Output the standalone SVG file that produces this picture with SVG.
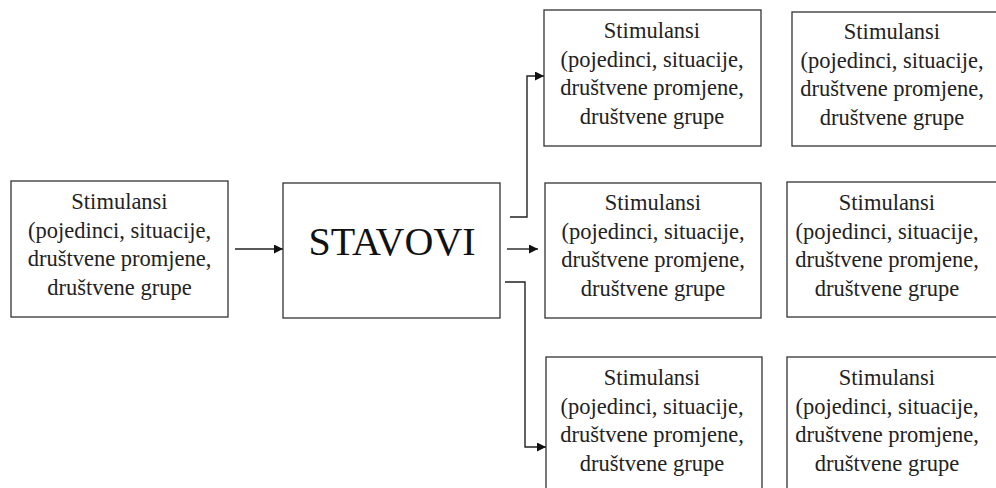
<svg xmlns="http://www.w3.org/2000/svg" width="996" height="488" viewBox="0 0 996 488">
  <defs>
    <marker id="arr" viewBox="0 0 10 10" refX="10" refY="5" markerWidth="10" markerHeight="9" markerUnits="userSpaceOnUse" orient="auto">
      <path d="M0,0 L10,5 L0,10 z" fill="#111"/>
    </marker>
  </defs>
  <style>
    .box { fill: #fff; stroke: #333; stroke-width: 1.3; }
    .t { font-family: "Liberation Serif", "Times New Roman", serif; font-size: 22.5px; fill: #222; text-anchor: middle; }
    .big { font-family: "Liberation Serif", "Times New Roman", serif; font-size: 40px; fill: #111; text-anchor: middle; }
    .c { fill: none; stroke: #222; stroke-width: 1.4; }
  </style>
  <rect width="996" height="488" fill="#fff"/>

  <g id="connectors">
    <path class="c" d="M235,249 H283" marker-end="url(#arr)"/>
    <path class="c" d="M510,217 H527 V76 H544" marker-end="url(#arr)"/>
    <path class="c" d="M507,249 H538" marker-end="url(#arr)"/>
    <path class="c" d="M505,282 H525 V447 H546" marker-end="url(#arr)"/>
  </g>

  <g id="input">
    <rect class="box" x="11" y="181" width="217" height="136"/>
    <text class="t" x="119.5" y="209">Stimulansi</text>
    <text class="t" x="119.5" y="237.5">(pojedinci, situacije,</text>
    <text class="t" x="119.5" y="266">društvene promjene,</text>
    <text class="t" x="119.5" y="294.5">društvene grupe</text>
  </g>

  <g id="stavovi">
    <rect class="box" x="283" y="183" width="217" height="135"/>
    <text class="big" x="392" y="255">STAVOVI</text>
  </g>

  <g id="top-mid">
    <rect class="box" x="544" y="10" width="217" height="136"/>
    <text class="t" x="652" y="38">Stimulansi</text>
    <text class="t" x="652" y="66.5">(pojedinci, situacije,</text>
    <text class="t" x="652" y="95">društvene promjene,</text>
    <text class="t" x="652" y="123.5">društvene grupe</text>
  </g>

  <g id="top-right">
    <rect class="box" x="792" y="12" width="217" height="134"/>
    <text class="t" x="892" y="39">Stimulansi</text>
    <text class="t" x="892" y="67.5">(pojedinci, situacije,</text>
    <text class="t" x="892" y="96">društvene promjene,</text>
    <text class="t" x="892" y="124.5">društvene grupe</text>
  </g>

  <g id="mid-mid">
    <rect class="box" x="545" y="183" width="216" height="135"/>
    <text class="t" x="653" y="210">Stimulansi</text>
    <text class="t" x="653" y="238.5">(pojedinci, situacije,</text>
    <text class="t" x="653" y="267">društvene promjene,</text>
    <text class="t" x="653" y="295.5">društvene grupe</text>
  </g>

  <g id="mid-right">
    <rect class="box" x="787" y="182" width="217" height="135"/>
    <text class="t" x="887" y="210">Stimulansi</text>
    <text class="t" x="887" y="238.5">(pojedinci, situacije,</text>
    <text class="t" x="887" y="267">društvene promjene,</text>
    <text class="t" x="887" y="295.5">društvene grupe</text>
  </g>

  <g id="bottom-mid">
    <rect class="box" x="546" y="357" width="216" height="140"/>
    <text class="t" x="652" y="385">Stimulansi</text>
    <text class="t" x="652" y="413.5">(pojedinci, situacije,</text>
    <text class="t" x="652" y="442">društvene promjene,</text>
    <text class="t" x="652" y="470.5">društvene grupe</text>
  </g>

  <g id="bottom-right">
    <rect class="box" x="787" y="357" width="217" height="140"/>
    <text class="t" x="887" y="385">Stimulansi</text>
    <text class="t" x="887" y="413.5">(pojedinci, situacije,</text>
    <text class="t" x="887" y="442">društvene promjene,</text>
    <text class="t" x="887" y="470.5">društvene grupe</text>
  </g>
</svg>
